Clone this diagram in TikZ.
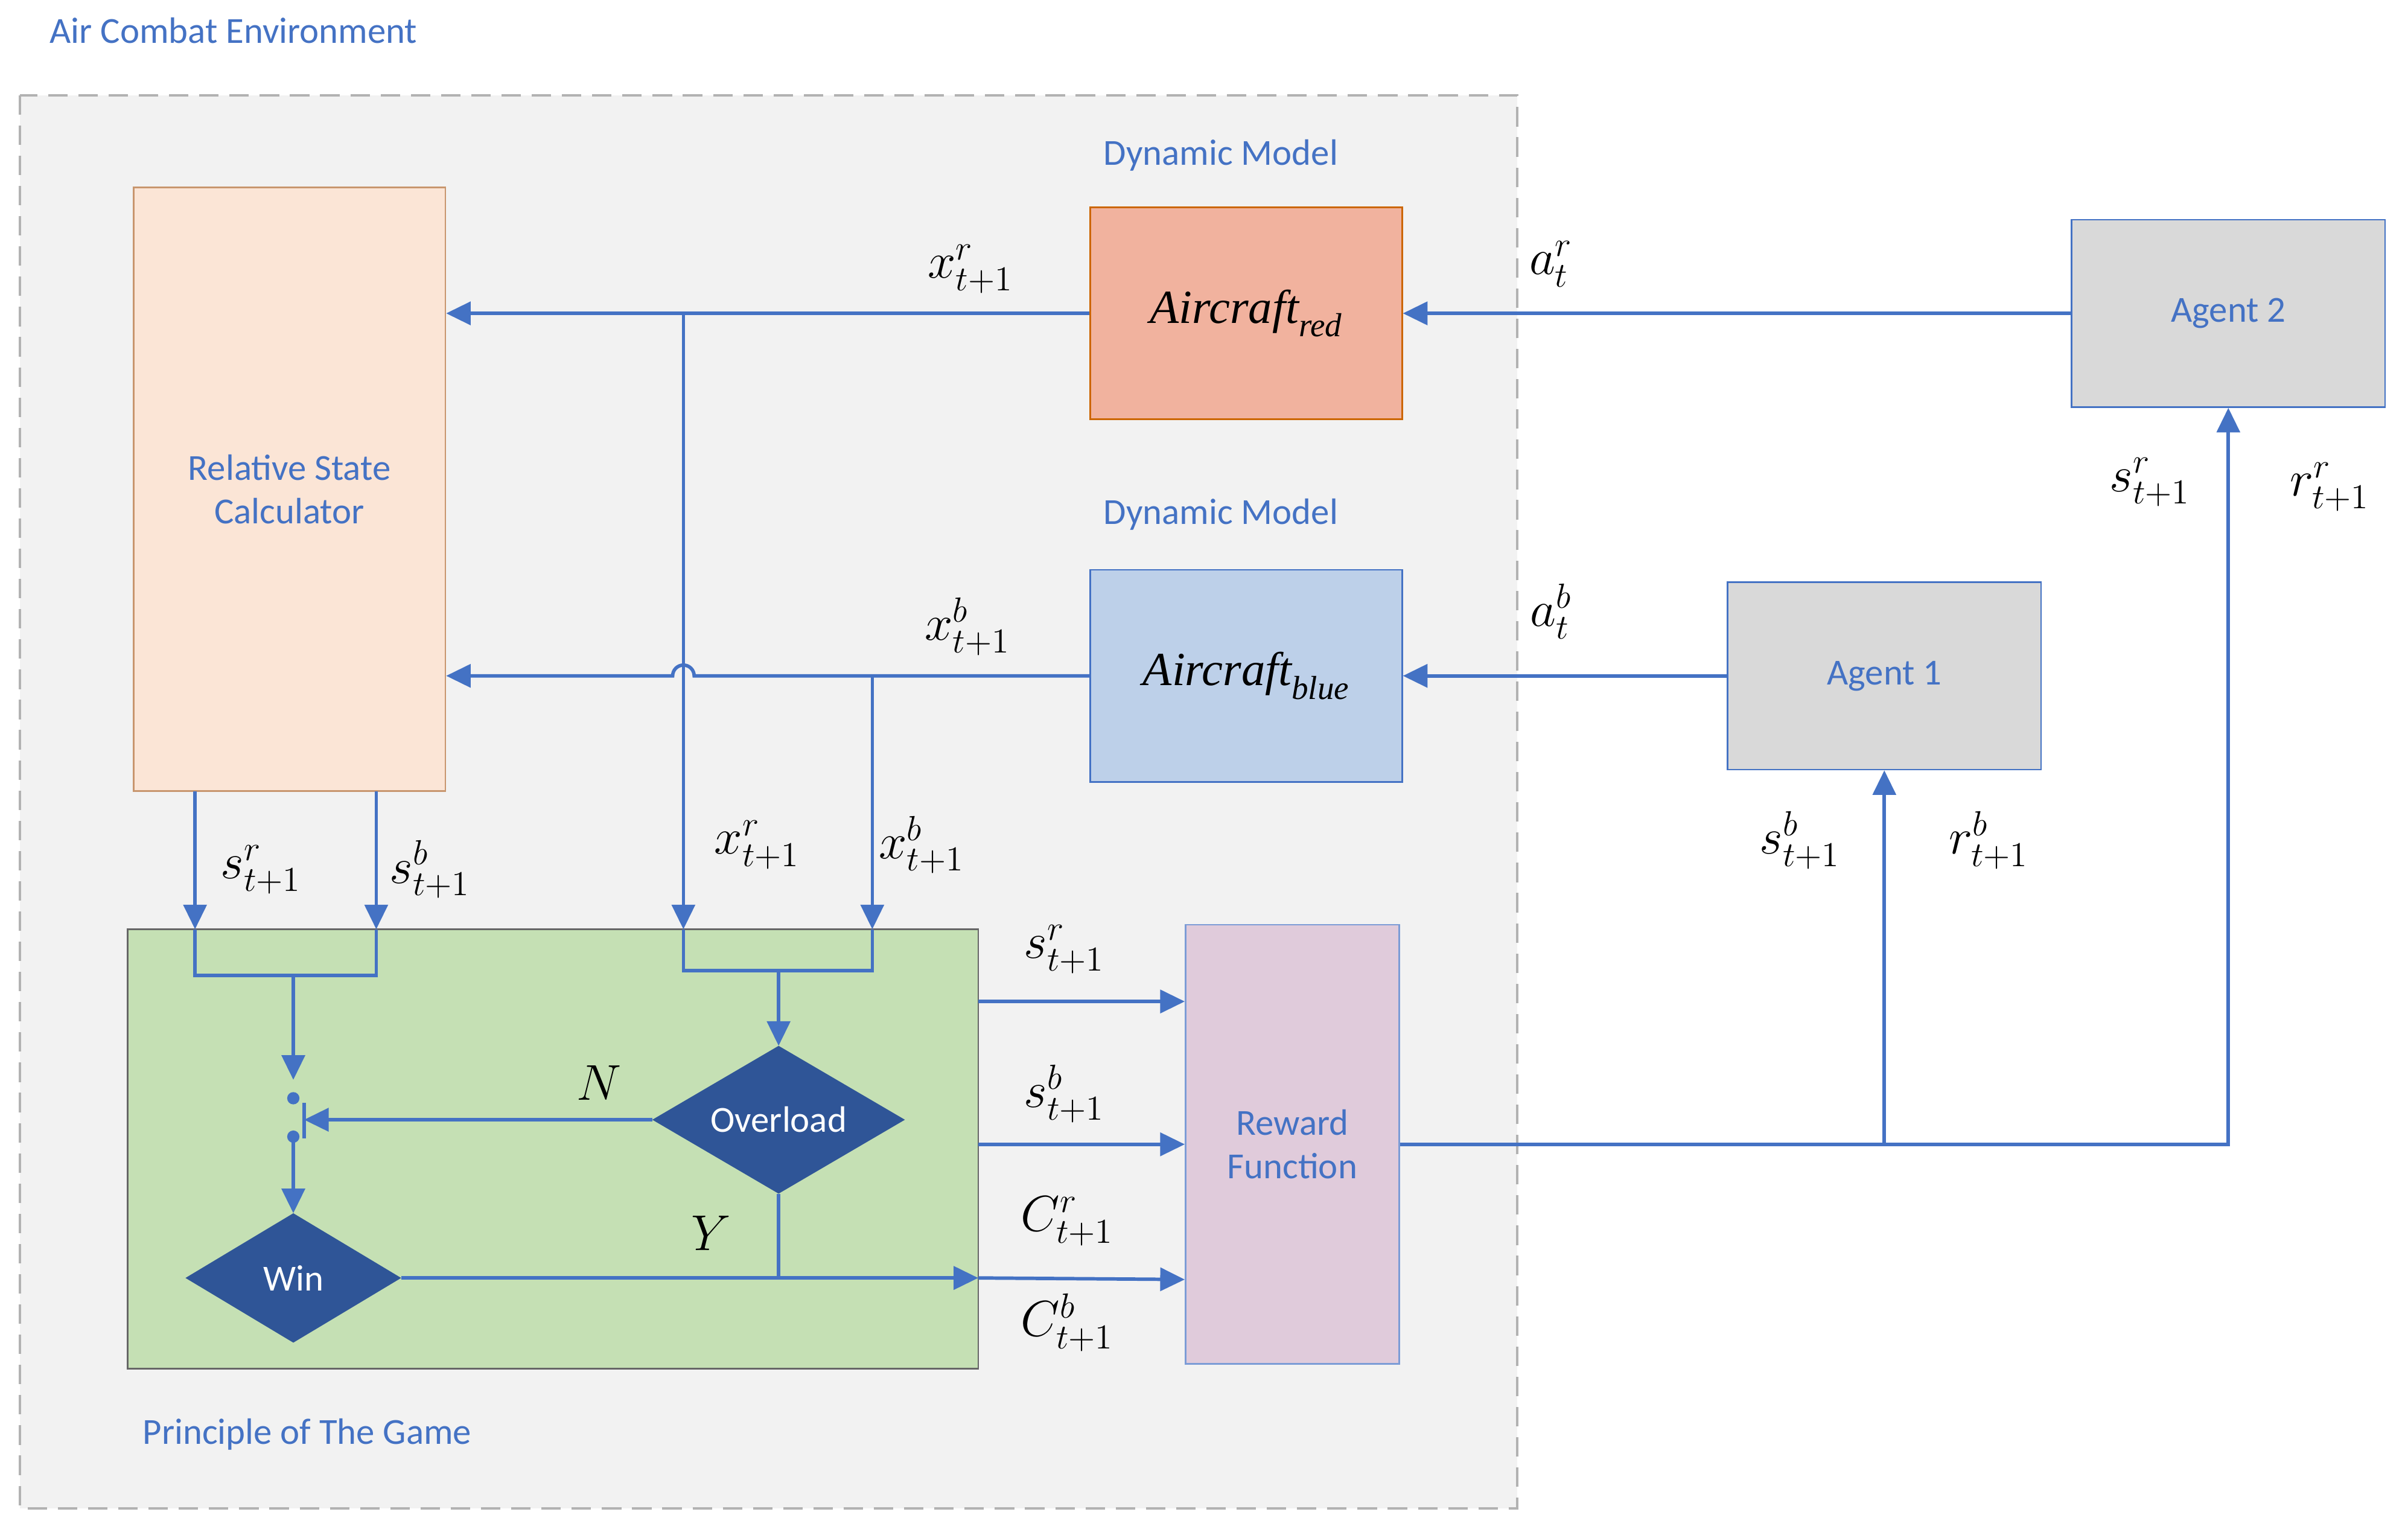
\documentclass[tikz,border=0pt]{standalone}
\usepackage{fontspec}
\usepackage{graphicx}
\setmainfont{Carlito}
\newfontfamily\tms{Liberation Serif}
\usetikzlibrary{arrows.meta,shapes.geometric}
\definecolor{lb}{RGB}{68,114,196}
\definecolor{db}{RGB}{47,85,151}
\definecolor{rscd}{RGB}{200,150,110}
\definecolor{rscf}{RGB}{251,229,214}
\definecolor{redf}{RGB}{241,178,158}
\definecolor{bluef}{RGB}{189,208,233}
\definecolor{grf}{RGB}{197,224,180}
\definecolor{rff}{RGB}{224,203,219}
\newcommand\mlab[1]{\scalebox{2.25}{$#1$}}
\begin{document}
\begin{tikzpicture}[x=0.05cm,y=-0.05cm,
 box/.style={draw=#1,line width=1.5pt,inner sep=0pt,font=\fontsize{34}{40}\selectfont,text=lb,align=center},
 con/.style={draw=lb,line width=3.2pt,-{Triangle[length=0.8cm,width=0.75cm]}},
 ln/.style={draw=lb,line width=3.2pt},
 lab/.style={font=\fontsize{20}{24}\selectfont,inner sep=0pt},
 txt/.style={text=lb,font=\fontsize{34}{36}\selectfont},
 dia/.style={diamond,fill=db,draw=db,text=white,font=\fontsize{34}{36}\selectfont,inner sep=0pt,aspect=1.7}]
\useasboundingbox (0,0) rectangle (1568,1001);
\fill[white] (0,0) rectangle (1568,1001);
\node[txt,anchor=west] (title) at (30,20) {Air Combat Environment};
\draw[fill=black!5,draw=black!30,line width=2.5pt,dash pattern=on 18pt off 10pt] (13,62) rectangle (988,982);
\node[box=rscd,fill=rscf,minimum width=10.15cm,minimum height=19.65cm] (rsc) at (188.5,318.5) {Relative State\\Calculator};
\node[box=orange!80!black,fill=redf,minimum width=10.15cm,minimum height=6.9cm,text=black,font=\tms\itshape\fontsize{44}{48}\selectfont] (ar) at (811.5,204) {Aircraft\textsubscript{red}};
\node[box=lb,fill=bluef,minimum width=10.15cm,minimum height=6.9cm,text=black,font=\tms\itshape\fontsize{44}{48}\selectfont] (ab) at (811.5,440) {Aircraft\textsubscript{blue}};
\node[txt] (dm1) at (795,101) {Dynamic Model};
\node[txt] (dm2) at (795,335) {Dynamic Model};
\node[box=lb,fill=black!15,minimum width=10.2cm,minimum height=6.1cm] (ag2) at (1451,204) {Agent 2};
\node[box=lb,fill=black!15,minimum width=10.2cm,minimum height=6.1cm] (ag1) at (1227,440) {Agent 1};
\node[box=black!60,fill=grf,minimum width=27.7cm,minimum height=14.3cm] (game) at (360,748) {};
\node[box=lb!70,fill=rff,minimum width=6.95cm,minimum height=14.3cm] (rf) at (841.5,745) {Reward\\Function};
\node[txt] (pg) at (200,934) {Principle of The Game};
\node[dia,minimum width=8.2cm,minimum height=4.8cm] (ov) at (507,729) {Overload};
\node[dia,minimum width=7cm,minimum height=4.2cm] (win) at (191,832) {Win};
% top
\draw[con] (ag2.west) -- (ar.east);
\node[lab] at (1010,172) {\mlab{a_t^r}};
\coordinate (jr) at (445,204);
\draw[con] (ar.west) -- (rsc.east |- ar.west);
\node[lab] at (632,175) {\mlab{x_{t+1}^r}};
\draw[con] (jr) -- (445,605);
\node[lab] at (493,550) {\mlab{x_{t+1}^r}};
\draw[con] (ag1.west) -- (ab.east);
\node[lab] at (1010,398) {\mlab{a_t^b}};
\draw[ln,-{Triangle[length=0.8cm,width=0.75cm]}] (ab.west) -- (452,440) arc[start angle=0,end angle=180,radius=0.35cm] -- (rsc.east |- ab.west);
\node[lab] at (630,408) {\mlab{x_{t+1}^b}};
\coordinate (jb) at (568,440);
\draw[con] (jb) -- (568,605);
\node[lab] at (600,550) {\mlab{x_{t+1}^b}};
\draw[con] (127,515) -- (127,605);
\draw[con] (245,515) -- (245,605);
\node[lab] at (170,566) {\mlab{s_{t+1}^r}};
\node[lab] at (280,566) {\mlab{s_{t+1}^b}};
% inside game
\draw[ln] (127,605) -- (127,635) -- (245,635) -- (245,605);
\draw[con] (191,635) -- (191,703);
\draw[ln] (445,605) -- (445,632) -- (568,632) -- (568,605);
\draw[con] (507,632) -- (ov.north);
\fill[lb] (191,715) circle (0.2cm) (191,740) circle (0.2cm);
\draw[ln] (198,718) -- (198,741);
\draw[con] (ov.west) -- (198,729);
\node[lab] at (390,705) {\mlab{N}};
\draw[con] (191,742) -- (win.north);
\draw[con] (win.east) -- (637,832);
\draw[ln] (ov.south) -- (507,832);
\node[lab] at (463,803) {\mlab{Y}};
% to reward
\draw[con] (637,652) -- (rf.west |- 0,652);
\node[lab] at (693,618) {\mlab{s_{t+1}^r}};
\draw[con] (637,745) -- (rf.west |- 0,745);
\node[lab] at (693,712) {\mlab{s_{t+1}^b}};
\draw[con] (637,832) -- (rf.west |- 0,833);
\node[lab] at (695,795) {\mlab{C_{t+1}^r}};
\node[lab] at (695,861) {\mlab{C_{t+1}^b}};
% reward out
\coordinate (j1) at (1227,745);
\draw[con] (rf.east) -- (1451,745) -- (ag2.south);
\draw[con] (j1) -- (ag1.south);
\node[lab] at (1172,547) {\mlab{s_{t+1}^b}};
\node[lab] at (1295,547) {\mlab{r_{t+1}^b}};
\node[lab] at (1400,314) {\mlab{s_{t+1}^r}};
\node[lab] at (1517,317) {\mlab{r_{t+1}^r}};
\end{tikzpicture}
\end{document}
